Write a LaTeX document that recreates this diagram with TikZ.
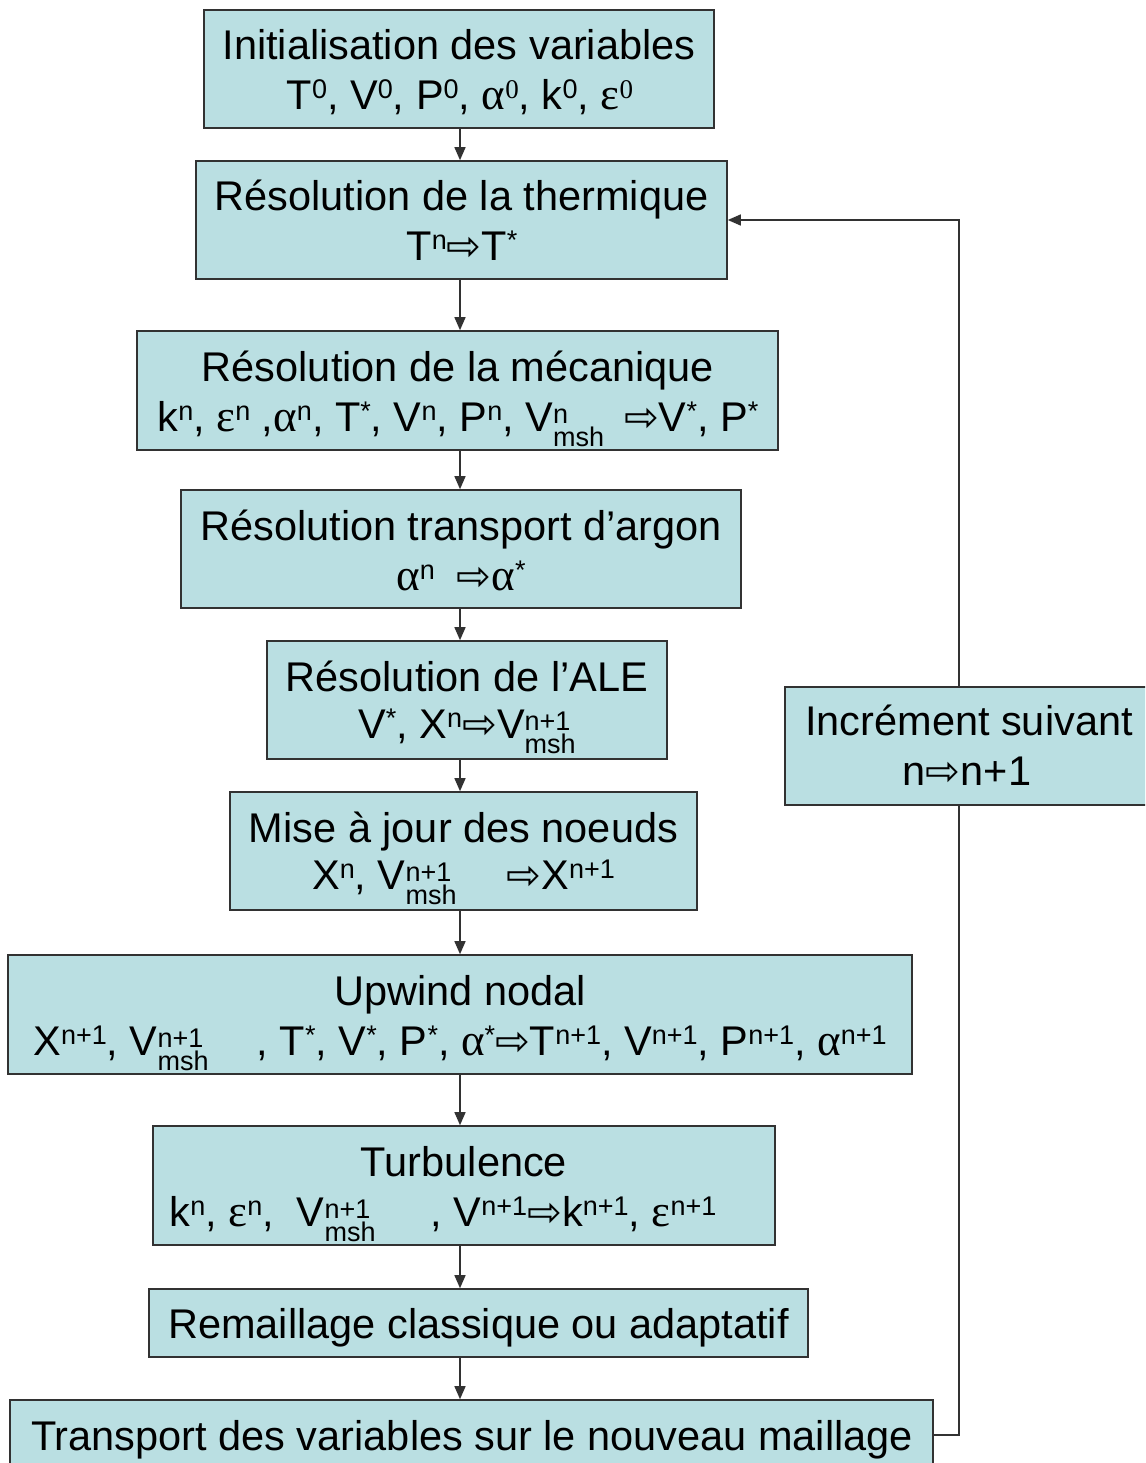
\documentclass[tikz,border=0pt]{standalone}
\usepackage{fontspec}
\setmainfont{Liberation Sans}
\newfontfamily\grk{Liberation Serif}
\newfontfamily\arw{DejaVu Sans}
\usetikzlibrary{arrows.meta}
\definecolor{boxfill}{RGB}{186,223,226}
\definecolor{edge}{RGB}{50,50,50}
\newcommand\su[1]{\raisebox{11pt}{\fontsize{27}{27}\selectfont #1}}
\newcommand\ms[1]{{\fontsize{27}{27}\selectfont\rlap{\raisebox{8pt}{#1}}\raisebox{-15pt}{msh}}}
\newcommand\ar{{\arw ⇨}}
\newcommand\al{{\grk\fontsize{45}{50}\selectfont α}}
\newcommand\ep{{\grk\fontsize{45}{50}\selectfont ε}}
\begin{document}
\begin{tikzpicture}[x=1pt,y=-1pt,
  box/.style={draw=edge, line width=1.6pt, fill=boxfill, inner sep=0pt},
  tl/.style={anchor=base, inner sep=0pt, font=\fontsize{41.5}{50}\selectfont},
  link/.style={draw=edge, line width=1.4pt},
  arr/.style={link, -{Triangle[length=13pt,width=11pt]}}]
\clip (0,0) rectangle (1145,1463);
\fill[white] (0,0) rectangle (1145,1463);
\coordinate (axis) at (460,0);
\coordinate (fb) at (959,0);
% boxes
\node[box, minimum width=510pt, minimum height=118pt] (init) at (459,69) {};
\node[box, minimum width=531pt, minimum height=118pt] (therm) at (461.5,220) {};
\node[box, minimum width=641pt, minimum height=119pt] (meca) at (457.5,390.5) {};
\node[box, minimum width=560pt, minimum height=118pt] (argon) at (461,549) {};
\node[box, minimum width=400pt, minimum height=118pt] (ale) at (467,700) {};
\node[box, minimum width=467pt, minimum height=118pt] (mise) at (463.5,851) {};
\node[box, minimum width=904pt, minimum height=119pt] (upw) at (460,1014.5) {};
\node[box, minimum width=622pt, minimum height=119pt] (turb) at (464,1185.5) {};
\node[box, minimum width=659pt, minimum height=68pt] (remail) at (478.5,1323) {};
\node[box, minimum width=923pt, minimum height=70pt] (transp) at (471.5,1435) {};
\node[box, minimum width=366pt, minimum height=118pt] (incr) at (968,746) {};
% texts
\node[tl] (initA) at (459,60) {Initialisation des variables};
\node[tl] (initB) at (460,110) {T\su{0}, V\su{0}, P\su{0}, \al\su{\grk 0}, k\su{0}, \ep\su{\grk 0}};
\node[tl] (thermA) at (461.5,211) {Résolution de la thermique};
\node[tl] (thermB) at (462,261) {T\su{n}\ar T\su{*}};
\node[tl] (mecaA) at (458,381) {Résolution de la mécanique};
\node[tl] (mecaB) at (458,431) {k\su{n}, \ep\su{n} ,\al\su{n}, T\su{*}, V\su{n}, P\su{n}, V\ms{n}\hspace{20pt}\ar V\su{*}, P\su{*}};
\node[tl] (argonA) at (461,540) {Résolution transport d’argon};
\node[tl] (argonB) at (461,590) {\al\su{n}\hspace{22pt}\ar\al\su{*}};
\node[tl] (aleA) at (467,691) {Résolution de l’ALE};
\node[tl] (aleB) at (467,738) {V\su{*}, X\su{n}\ar V\ms{n+1}};
\node[tl] (miseA) at (463.5,842) {Mise à jour des noeuds};
\node[tl] (miseB) at (463.5,889) {X\su{n}, V\ms{n+1}\hspace{50pt}\ar X\su{n+1}};
\node[tl] (upwA) at (460,1005) {Upwind nodal};
\node[tl] (upwB) at (460,1055) {X\su{n+1}, V\ms{n+1}\hspace{48pt}, T\su{*}, V\su{*}, P\su{*}, \al\su{*}\ar T\su{n+1}, V\su{n+1}, P\su{n+1}, \al\su{n+1}};
\node[tl] (turbA) at (464,1176) {Turbulence};
\node[tl] (turbB) at (443,1226) {k\su{n}, \ep\su{n}, \ V\ms{n+1}\hspace{55pt}, V\su{n+1}\ar k\su{n+1}, \ep\su{n+1}};
\node[tl] (remailA) at (478.5,1338) {Remaillage classique ou adaptatif};
\node[tl] (transpA) at (472,1450) {Transport des variables sur le nouveau maillage};
\node[tl] (incrA) at (969,735) {Incrément suivant};
\node[tl] (incrB) at (967,785) {n\ar n+1};
% connectors
\draw[arr] (init.south -| axis) -- (therm.north -| axis);
\draw[arr] (therm.south -| axis) -- (meca.north -| axis);
\draw[arr] (meca.south -| axis) -- (argon.north -| axis);
\draw[arr] (argon.south -| axis) -- (ale.north -| axis);
\draw[arr] (ale.south -| axis) -- (mise.north -| axis);
\draw[arr] (mise.south -| axis) -- (upw.north -| axis);
\draw[arr] (upw.south -| axis) -- (turb.north -| axis);
\draw[arr] (turb.south -| axis) -- (remail.north -| axis);
\draw[arr] (remail.south -| axis) -- (transp.north -| axis);
\draw[link] (transp.east) -| (fb |- incr.south);
\draw[arr] (fb |- incr.north) |- (therm.east);
\end{tikzpicture}
\end{document}
